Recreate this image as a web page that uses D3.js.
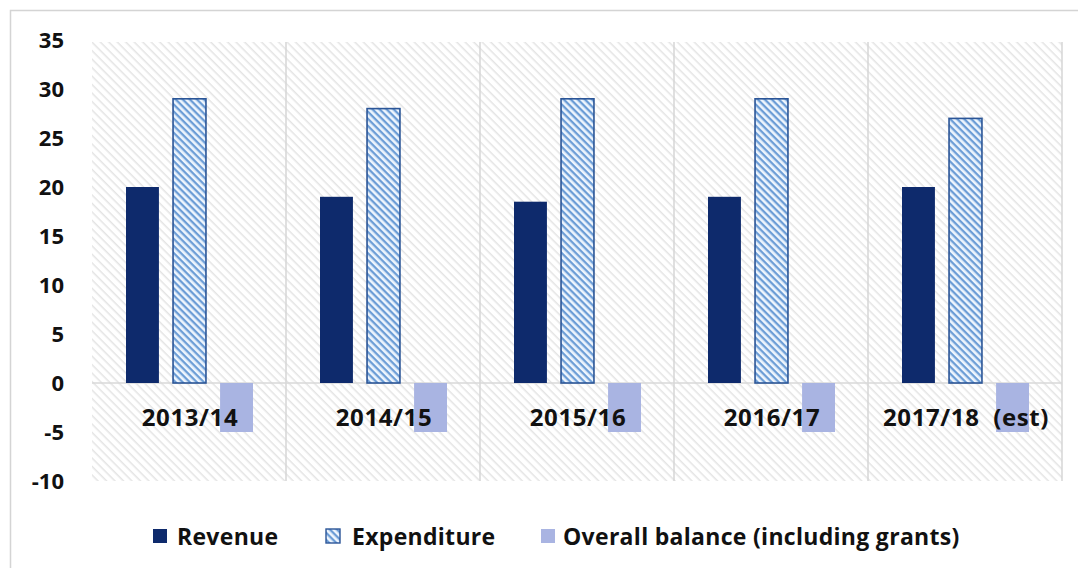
<!DOCTYPE html>
<html>
<head>
<meta charset="utf-8">
<script src="https://cdn.jsdelivr.net/npm/d3@7"></script>
<style>
  html, body { margin: 0; padding: 0; background: #fff; }
  svg { display: block; font-family: "Open Sans", Lato, sans-serif; }
</style>
</head>
<body>
<svg id="chart" width="1078" height="568"></svg>
<script>
// Fiscal years shown along the category axis
const years = ["2013/14", "2014/15", "2015/16", "2016/17", "2017/18"];
const yearLabels = ["2013/14", "2014/15", "2015/16", "2016/17", "2017/18  (est)"];

// Series values, % of GDP
const seriesNames = ["Revenue", "Expenditure", "Overall balance (including grants)"];
const revenue = [20, 19, 18.5, 19, 20];
const expenditure = [29, 28, 29, 29, 27];
const balance = [-5, -5, -5, -5, -5];

const yTicks = [35, 30, 25, 20, 15, 10, 5, 0, -5, -10];

const seriesValues = [revenue, expenditure, balance];
const rows = years.map((yr, i) => ({
  year: yr,
  label: yearLabels[i],
  values: seriesNames.map((s, k) => ({ key: s, value: seriesValues[k][i] }))
}));

const svg = d3.select("#chart");
const W = 1078, H = 568;
const plot = { left: 92, right: 1062, top: 40, bottom: 481 };
const FONT = "'Open Sans', Lato, sans-serif";

const defs = svg.append("defs");
// light diagonal hatch used for the plot background
const bg = defs.append("pattern").attr("id", "bgHatch")
  .attr("patternUnits", "userSpaceOnUse").attr("width", 6).attr("height", 6)
  .attr("patternTransform", "rotate(45)");
bg.append("rect").attr("width", 6).attr("height", 6).attr("fill", "#ffffff");
bg.append("rect").attr("x", 0).attr("y", 0).attr("width", 6).attr("height", 1.5).attr("fill", "#e4e4e4");

// blue hatch for the expenditure bars
const ex = defs.append("pattern").attr("id", "expHatch")
  .attr("patternUnits", "userSpaceOnUse").attr("width", 5).attr("height", 5)
  .attr("patternTransform", "rotate(45)");
ex.append("rect").attr("width", 5).attr("height", 5).attr("fill", "#eef5fd");
ex.append("rect").attr("x", 0).attr("y", 0).attr("width", 5).attr("height", 2.3).attr("fill", "#6c9dd6");

const colors = {
  "Revenue": "#0e2a6c",
  "Expenditure": "url(#expHatch)",
  "Overall balance (including grants)": "#a9b4e2"
};

// outer frame
svg.append("rect").attr("x", 10.5).attr("y", 10.5).attr("width", W).attr("height", H)
  .attr("fill", "none").attr("stroke", "#d4d4d4").attr("stroke-width", 1.5);

const x0 = d3.scaleBand().domain(years).range([plot.left, plot.right]).padding(0);
const x1 = d3.scaleBand().domain(seriesNames).range([34, 161]).paddingInner(0.3).paddingOuter(0);
const y = d3.scaleLinear().domain([-10, 35]).range([plot.bottom, plot.top]);

// plot background
svg.append("rect")
  .attr("x", plot.left).attr("y", y(35) + 2)
  .attr("width", plot.right - plot.left).attr("height", y(-10) - y(35) - 2)
  .attr("fill", "url(#bgHatch)");

// vertical separators between years, plus the right edge
const seps = years.slice(1).map(d => x0(d)).concat([plot.right]);
svg.append("g").selectAll("line").data(seps).join("line")
  .attr("x1", d => d).attr("x2", d => d)
  .attr("y1", y(35) + 2).attr("y2", y(-10))
  .attr("stroke", "#d6d6d6").attr("stroke-width", 1.5);

// zero line
svg.append("line")
  .attr("x1", plot.left).attr("x2", plot.right)
  .attr("y1", y(0)).attr("y2", y(0))
  .attr("stroke", "#d9d9d9").attr("stroke-width", 1.5);

// y axis labels
const yAxis = d3.axisLeft(y).tickValues(yTicks).tickSize(0).tickPadding(0)
  .tickFormat(d => String(d));
const yg = svg.append("g").attr("transform", `translate(64,0)`).call(yAxis);
yg.select(".domain").remove();
yg.selectAll("text")
  .attr("font-family", FONT)
  .attr("font-size", 22).attr("font-weight", 700).attr("fill", "#111")
  .attr("dy", "0.35em");

// bars
const groups = svg.append("g").selectAll("g").data(rows).join("g")
  .attr("transform", d => `translate(${x0(d.year)},0)`);

groups.selectAll("rect").data(d => d.values).join("rect")
  .attr("x", d => x1(d.key))
  .attr("width", x1.bandwidth())
  .attr("y", d => y(Math.max(0, d.value)))
  .attr("height", d => Math.abs(y(d.value) - y(0)))
  .attr("fill", d => colors[d.key])
  .attr("stroke", d => d.key === "Expenditure" ? "#2b5597" : "none")
  .attr("stroke-width", 1.6);

// category labels below the zero line
svg.append("g").selectAll("text").data(rows).join("text")
  .attr("x", d => x0(d.year) + x0.bandwidth() / 2 + 1)
  .attr("y", y(0) + 35)
  .attr("dy", "0.35em")
  .attr("text-anchor", "middle")
  .attr("font-family", FONT)
  .attr("font-size", 24).attr("font-weight", 700).attr("fill", "#111")
  .attr("letter-spacing", 0.6)
  .style("white-space", "pre")
  .text(d => d.label);

// legend
const legendItems = [
  { key: "Revenue", sx: 153, tx: 177 },
  { key: "Expenditure", sx: 326, tx: 352 },
  { key: "Overall balance (including grants)", sx: 541, tx: 563 }
];
const lg = svg.append("g");
lg.selectAll("rect").data(legendItems).join("rect")
  .attr("x", d => d.sx).attr("y", 529).attr("width", 14).attr("height", 14)
  .attr("fill", d => colors[d.key])
  .attr("stroke", d => d.key === "Expenditure" ? "#2b5597" : "none")
  .attr("stroke-width", 1.4);
lg.selectAll("text").data(legendItems).join("text")
  .attr("x", d => d.tx).attr("y", 537).attr("dy", "0.35em")
  .attr("font-family", FONT)
  .attr("font-size", 23).attr("font-weight", 700).attr("fill", "#111")
  .attr("letter-spacing", 0.3)
  .text(d => d.key);
</script>
</body>
</html>
